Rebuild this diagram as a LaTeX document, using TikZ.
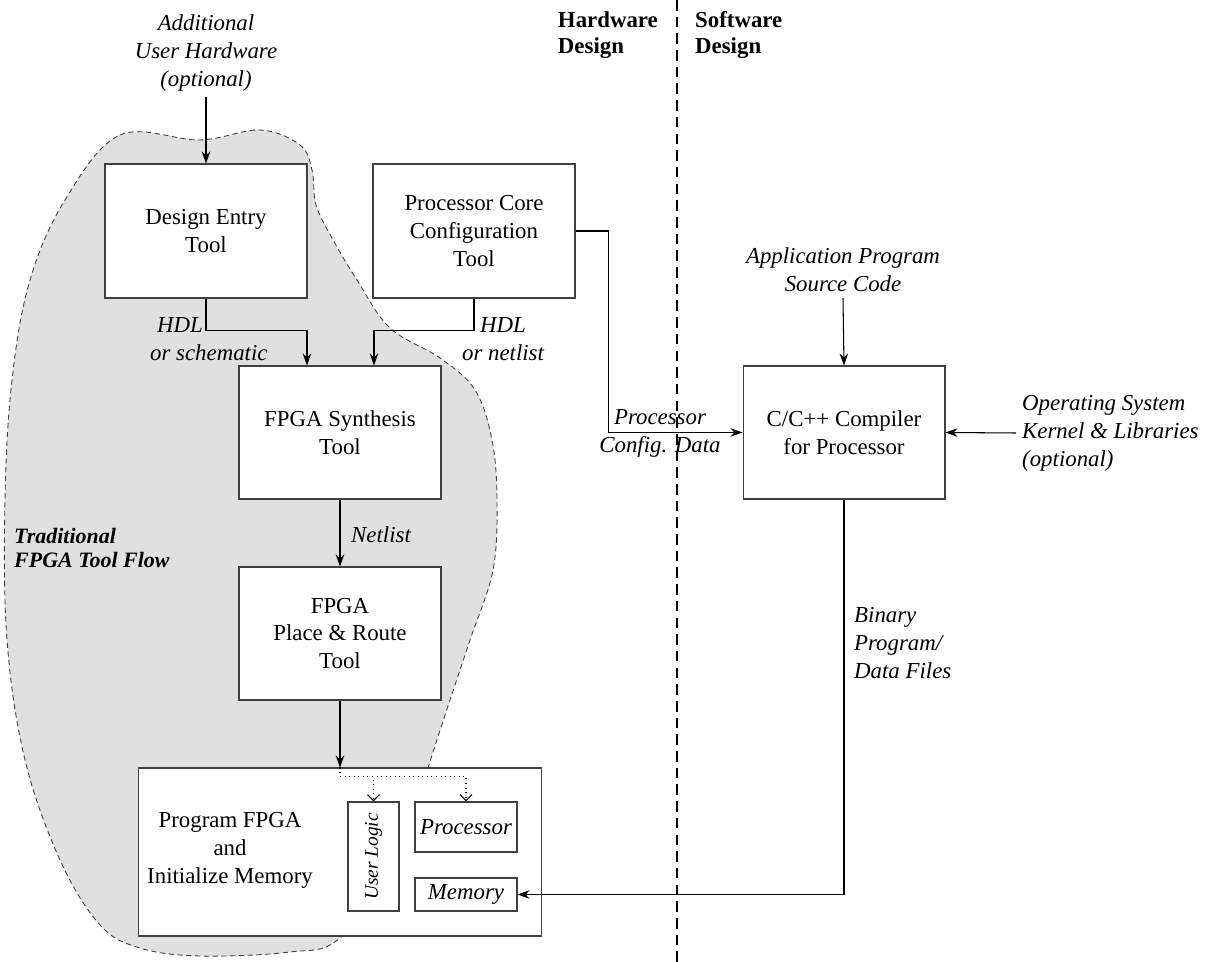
\documentclass[tikz,border=0pt]{standalone}
\usepackage{fontspec}
\setmainfont{Liberation Serif}
\usetikzlibrary{arrows.meta}

\begin{document}
\begin{tikzpicture}[x=0.02cm, y=-0.02cm,
    >={Stealth[length=2.4mm, width=1.7mm]},
    every node/.style={font=\fontsize{13}{15.9}\selectfont},
    blk/.style={draw=black!75, line width=0.6pt, fill=white, align=center, inner sep=2pt},
    lbl/.style={font=\fontsize{13}{15.9}\selectfont\itshape},
    side/.style={align=left, font=\fontsize{13}{14.4}\selectfont\bfseries},
    conn/.style={line width=0.6pt, ->}]
    \useasboundingbox (0,0) rectangle (1207,962);

    % Traditional tool flow region
    \filldraw[fill=black!12, draw=black!75, line width=0.5pt, dash pattern=on 3pt off 2pt]
      plot[smooth cycle, tension=0.6] coordinates {
        (65,200) (120,135) (200,140) (260,130) (300,145) (312,170) (316,205)
        (332,238) (357,280) (390,328) (440,358) (475,390) (492,440) (497,500)
        (493,570) (470,640) (450,700) (428,768) (400,860) (340,938) (290,952)
        (200,956) (140,948) (100,925) (60,860) (25,760) (7,640) (5,500)
        (12,380) (30,280)};

    % Hardware / software divide
    \draw[dashed, line width=0.6pt, dash pattern=on 6pt off 3.5pt] (677,0) -- (677,962);
    \node[side, anchor=east] (hwside) at (664,35) {Hardware\\Design};
    \node[side, anchor=west] (swside) at (689,35) {Software\\Design};

    % Tool boxes
    \node[blk, minimum width=4.04cm, minimum height=2.68cm] (entry) at (206,231) {Design Entry\\Tool};
    \node[blk, minimum width=4.04cm, minimum height=2.68cm] (core) at (474,231) {Processor Core\\Configuration\\Tool};
    \node[blk, minimum width=4.04cm, minimum height=2.66cm] (synth) at (340,432.5) {FPGA Synthesis\\Tool};
    \node[blk, minimum width=4.04cm, minimum height=2.66cm] (par) at (340,633.5) {FPGA\\Place \& Route\\Tool};
    \node[blk, minimum width=4.04cm, minimum height=2.66cm] (comp) at (844,432.5) {C/C++ Compiler\\for Processor};
    \node[blk, minimum width=8.08cm, minimum height=3.36cm] (prog) at (340,852) {};
    \node[align=center] (progtxt) at (230,850) {Program FPGA\\and\\Initialize Memory};
    \node[blk, minimum width=1.02cm, minimum height=2.18cm] (ulogic) at (373.5,856.5) {};
    \node[rotate=90, font=\fontsize{11}{13}\selectfont\itshape] (ulogictxt) at (ulogic) {User Logic};
    \node[blk, lbl, minimum width=2.04cm, minimum height=1.0cm] (proc) at (466,827) {Processor};
    \node[blk, lbl, minimum width=2.04cm, minimum height=0.66cm] (mem) at (466,894.5) {Memory};

    % Inputs
    \node[lbl, align=center] (addhw) at (206,53) {Additional\\User Hardware\\(optional)};
    \node[lbl, align=center] (appsrc) at (843,270) {Application Program\\Source Code};
    \node[lbl, align=left, anchor=west] (oslib) at (1016,433) {Operating System\\Kernel \& Libraries\\(optional)};

    % Connector labels
    \node[lbl, align=left, anchor=west] (hdlsch) at (144,339) {\hspace*{4pt}HDL\\or schematic};
    \node[lbl, align=center] (hdlnet) at (503,339) {HDL\\or netlist};
    \node[lbl, align=center] (cfgdata) at (660,433) {Processor\\Config. Data};
    \node[lbl, anchor=west] (netl) at (345,535) {Netlist};
    \node[lbl, align=left, anchor=west] (binfiles) at (848,643) {Binary\\Program/\\Data Files};
    \node[align=left, anchor=west, font=\fontsize{12.5}{14.2}\selectfont\bfseries\itshape] (tradflow) at (8,548) {Traditional\\FPGA Tool Flow};

    % Connectors
    \draw[conn] (addhw.south) -- (entry.north);
    \draw[conn] (entry.south) -- ++(0,32) -| ([xshift=-0.66cm]synth.north);
    \draw[conn] (core.south) -- ++(0,32) -| ([xshift=0.68cm]synth.north);
    \draw[conn] (core.east) -- ++(33,0) |- (comp.west);
    \draw[conn] (appsrc.south) -- (comp.north);
    \draw[conn] (oslib.west) -- (comp.east);
    \draw[conn] (synth.south) -- (par.north);
    \draw[conn] (par.south) -- (prog.north);
    \draw[conn] (comp.south) |- (mem.east);
    \draw[line width=0.6pt, dotted] (prog.north) -- ++(0,9) coordinate (split);
    \draw[line width=0.6pt, dotted, -{Straight Barb[length=1.2mm]}] (split) -| (ulogic.north);
    \draw[line width=0.6pt, dotted, -{Straight Barb[length=1.2mm]}] (split) -| (proc.north);
\end{tikzpicture}
\end{document}
